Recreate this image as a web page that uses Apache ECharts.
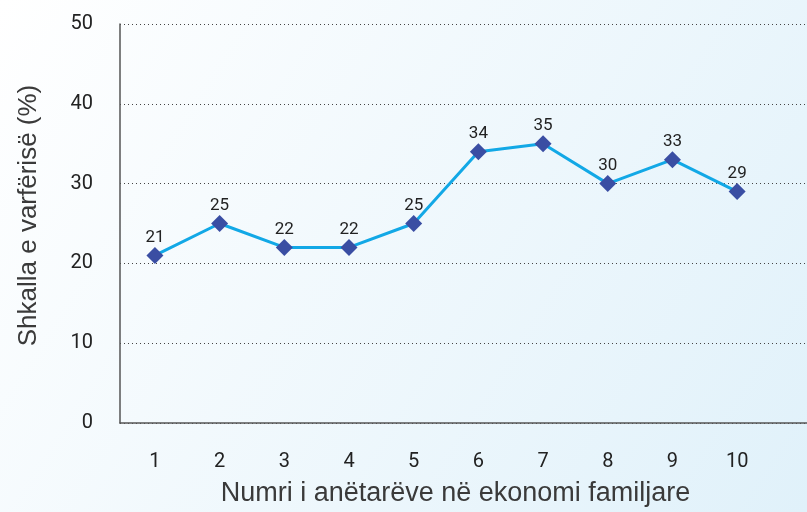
<!DOCTYPE html>
<html>
<head>
<meta charset="utf-8">
<script src="https://cdn.jsdelivr.net/npm/echarts@6/dist/echarts.min.js"></script>
<style>
html, body { margin: 0; padding: 0; }
#chart { width: 807px; height: 512px; }
</style>
</head>
<body>
<div id="chart"></div>
<script>
// numri i anetareve dhe shkalla e varferise
var members = [1, 2, 3, 4, 5, 6, 7, 8, 9, 10];
var povertyRate = [21, 25, 22, 22, 25, 34, 35, 30, 33, 29];
var yTicks = [0, 10, 20, 30, 40, 50];

var chart = echarts.init(document.getElementById('chart'));

var points = [];
for (var i = 0; i < members.length; i++) {
    points.push([members[i], povertyRate[i]]);
}

var option = {
    backgroundColor: {
        type: 'linear', x: 0, y: 0, x2: 1, y2: 1,
        colorStops: [
            { offset: 0, color: '#ffffff' },
            { offset: 1, color: '#e0f1fa' }
        ]
    },
    grid: { left: 120, right: 0, top: 24, bottom: 89, outerBoundsMode: 'none' },
    xAxis: {
        type: 'value',
        min: 0.46,
        max: 11.08,
        name: 'Numri i anëtarëve në ekonomi familjare',
        nameLocation: 'middle',
        nameGap: 57,
        nameTextStyle: { fontFamily: 'Liberation Sans', fontSize: 27, color: '#3a3a3a', padding: [0, 16, 0, 0] },
        axisLine: { show: true, lineStyle: { color: '#555', width: 1.5 } },
        axisTick: { show: false },
        splitLine: { show: false },
        axisLabel: {
            customValues: members,
            margin: 29,
            fontFamily: 'Roboto',
            fontSize: 20,
            color: '#222'
        }
    },
    yAxis: {
        type: 'value',
        min: 0,
        max: 50,
        interval: 10,
        name: 'Shkalla e varfërisë (%)',
        nameLocation: 'middle',
        nameGap: 78,
        nameTextStyle: { fontFamily: 'Liberation Sans', fontSize: 26, color: '#3a3a3a', padding: [0, 0, 0, 16] },
        axisLine: { show: true, lineStyle: { color: '#555', width: 1.5 } },
        axisTick: { show: false },
        axisLabel: {
            customValues: yTicks,
            margin: 27,
            fontFamily: 'Roboto',
            fontSize: 20,
            color: '#222'
        },
        splitLine: {
            show: true,
            lineStyle: { color: '#444', type: [1, 3], width: 1 }
        }
    },
    series: [{
        type: 'line',
        data: points,
        symbol: 'diamond',
        symbolSize: 17,
        lineStyle: { color: '#12a8e6', width: 3 },
        itemStyle: { color: '#3a4ea3' },
        label: {
            show: true,
            position: 'top',
            distance: 1,
            formatter: function (p) { return p.value[1]; },
            fontFamily: 'Roboto',
            fontSize: 17,
            color: '#222'
        },
        animation: false
    }]
};
chart.setOption(option);
</script>
</body>
</html>
